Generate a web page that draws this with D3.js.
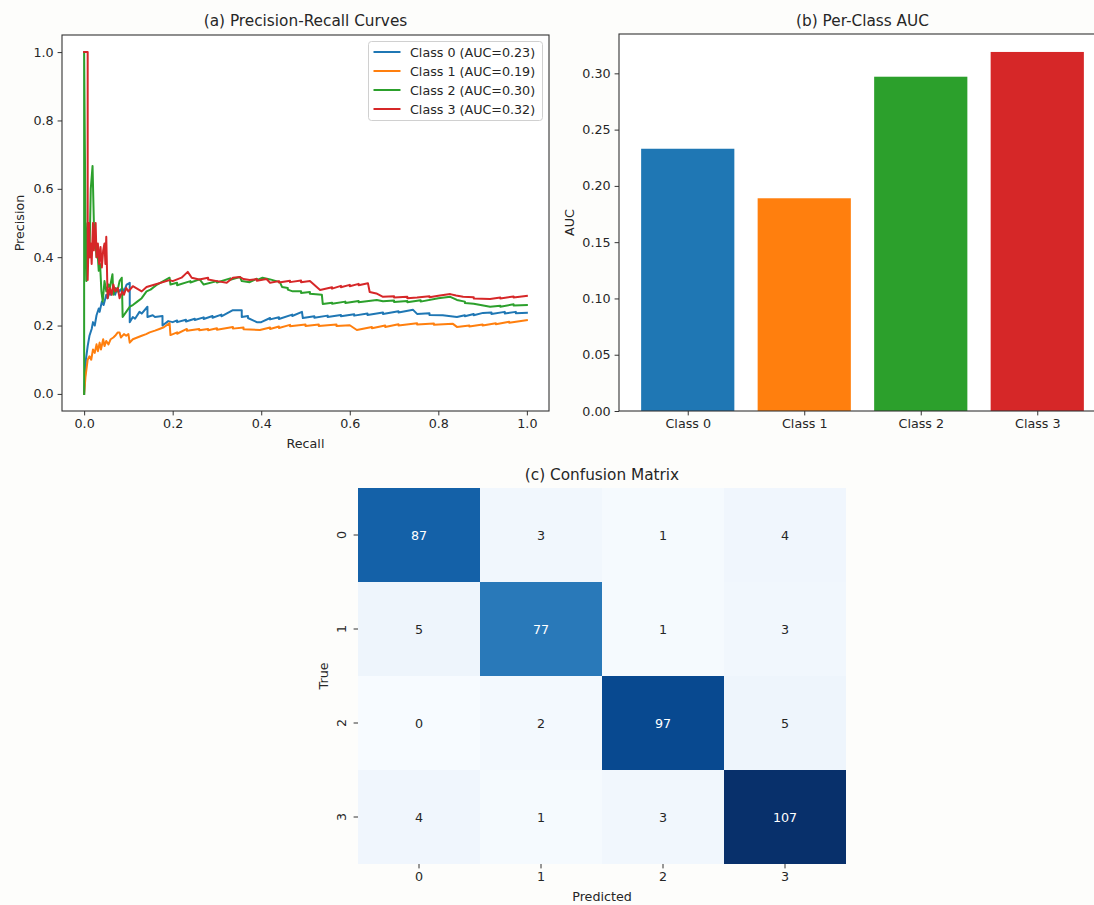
<!DOCTYPE html>
<html>
<head>
<meta charset="utf-8">
<script src="https://cdn.jsdelivr.net/npm/d3@7"></script>
<style>
  html, body { margin: 0; padding: 0; background: #fdfdfb; }
  svg { display: block; font-family: "DejaVu Sans", sans-serif; }
</style>
</head>
<body>
<svg id="fig" width="1094" height="905"></svg>
<script>
// ---- data ----
const classNames = ["Class 0", "Class 1", "Class 2", "Class 3"];
const classColors = ["#1f77b4", "#ff7f0e", "#2ca02c", "#d62728"];
const aucValues = [0.233, 0.189, 0.297, 0.319];

// precision-recall points, [recall, precision]
const prClass0 = [[0,0],[0.004,0.10],[0.008,0.14],[0.012,0.17],[0.017,0.19],[0.02,0.21],[0.024,0.20],[0.028,0.23],[0.033,0.25],[0.035,0.24],[0.04,0.27],[0.044,0.26],[0.048,0.28],[0.05,0.29],[0.053,0.28],[0.058,0.30],[0.06,0.29],[0.066,0.31],[0.07,0.29],[0.075,0.31],[0.08,0.30],[0.086,0.31],[0.09,0.30],[0.096,0.32],[0.103,0.325],[0.103,0.21],[0.11,0.225],[0.115,0.22],[0.125,0.24],[0.13,0.235],[0.143,0.255],[0.143,0.225],[0.155,0.23],[0.16,0.225],[0.177,0.228],[0.177,0.20],[0.19,0.213],[0.2,0.21],[0.21,0.215],[0.21,0.21],[0.23,0.217],[0.23,0.212],[0.25,0.22],[0.25,0.216],[0.27,0.224],[0.27,0.219],[0.29,0.228],[0.29,0.223],[0.31,0.232],[0.31,0.227],[0.336,0.245],[0.356,0.245],[0.356,0.225],[0.37,0.228],[0.37,0.222],[0.39,0.21],[0.40,0.21],[0.42,0.222],[0.42,0.218],[0.44,0.224],[0.44,0.219],[0.47,0.232],[0.47,0.228],[0.492,0.24],[0.494,0.222],[0.52,0.227],[0.52,0.223],[0.55,0.229],[0.55,0.225],[0.58,0.231],[0.58,0.227],[0.61,0.233],[0.61,0.229],[0.64,0.235],[0.64,0.231],[0.675,0.238],[0.675,0.234],[0.71,0.242],[0.71,0.238],[0.743,0.246],[0.752,0.234],[0.78,0.236],[0.78,0.231],[0.81,0.23],[0.842,0.225],[0.86,0.23],[0.86,0.227],[0.88,0.234],[0.88,0.23],[0.901,0.237],[0.92,0.238],[0.92,0.234],[0.95,0.24],[0.95,0.235],[0.975,0.24],[0.975,0.236],[1.0,0.237]];
const prClass1 = [[0,0],[0.003,0.05],[0.006,0.08],[0.008,0.10],[0.012,0.11],[0.016,0.10],[0.02,0.13],[0.024,0.12],[0.028,0.145],[0.031,0.125],[0.035,0.15],[0.038,0.13],[0.043,0.16],[0.046,0.14],[0.05,0.155],[0.055,0.145],[0.06,0.16],[0.066,0.165],[0.07,0.17],[0.076,0.18],[0.08,0.18],[0.083,0.165],[0.09,0.175],[0.095,0.17],[0.1,0.175],[0.103,0.15],[0.11,0.16],[0.12,0.165],[0.13,0.17],[0.14,0.175],[0.148,0.18],[0.16,0.185],[0.17,0.19],[0.18,0.195],[0.193,0.207],[0.195,0.172],[0.21,0.18],[0.21,0.176],[0.232,0.19],[0.232,0.185],[0.26,0.19],[0.26,0.186],[0.28,0.19],[0.28,0.186],[0.3,0.192],[0.3,0.188],[0.336,0.196],[0.336,0.191],[0.36,0.194],[0.36,0.189],[0.397,0.187],[0.42,0.194],[0.42,0.19],[0.44,0.197],[0.44,0.193],[0.465,0.202],[0.465,0.198],[0.5,0.203],[0.5,0.199],[0.53,0.203],[0.53,0.199],[0.57,0.203],[0.57,0.199],[0.6,0.201],[0.616,0.187],[0.65,0.196],[0.65,0.192],[0.68,0.2],[0.68,0.196],[0.71,0.204],[0.71,0.2],[0.752,0.207],[0.752,0.203],[0.79,0.206],[0.79,0.202],[0.833,0.205],[0.842,0.196],[0.87,0.2],[0.87,0.197],[0.9,0.203],[0.9,0.2],[0.93,0.207],[0.93,0.204],[0.96,0.211],[0.96,0.208],[1.0,0.216]];
const prClass2 = [[0,0],[0,1.0],[0.003,0.5],[0.005,0.33],[0.008,0.5],[0.012,0.4],[0.015,0.6],[0.019,0.667],[0.022,0.5],[0.025,0.45],[0.028,0.40],[0.03,0.42],[0.033,0.36],[0.036,0.38],[0.039,0.30],[0.042,0.27],[0.046,0.33],[0.05,0.30],[0.055,0.32],[0.058,0.31],[0.064,0.35],[0.066,0.29],[0.07,0.31],[0.075,0.30],[0.08,0.33],[0.085,0.34],[0.087,0.225],[0.095,0.24],[0.103,0.255],[0.11,0.26],[0.12,0.27],[0.13,0.28],[0.141,0.30],[0.15,0.305],[0.165,0.32],[0.193,0.34],[0.195,0.32],[0.21,0.325],[0.21,0.318],[0.24,0.33],[0.24,0.326],[0.261,0.335],[0.27,0.32],[0.3,0.33],[0.3,0.326],[0.33,0.338],[0.33,0.334],[0.352,0.342],[0.356,0.33],[0.374,0.327],[0.39,0.337],[0.39,0.333],[0.403,0.34],[0.42,0.335],[0.442,0.327],[0.447,0.313],[0.46,0.31],[0.46,0.305],[0.471,0.30],[0.49,0.3],[0.49,0.295],[0.51,0.298],[0.51,0.293],[0.537,0.29],[0.539,0.263],[0.56,0.267],[0.56,0.264],[0.59,0.27],[0.59,0.266],[0.62,0.272],[0.62,0.268],[0.661,0.275],[0.675,0.271],[0.7,0.273],[0.7,0.269],[0.73,0.272],[0.73,0.268],[0.76,0.274],[0.76,0.27],[0.8,0.28],[0.827,0.284],[0.842,0.275],[0.86,0.27],[0.86,0.266],[0.88,0.264],[0.917,0.255],[0.94,0.258],[0.94,0.255],[0.97,0.262],[0.97,0.259],[1.0,0.26]];
const prClass3 = [[0,1.0],[0.008,1.0],[0.008,0.333],[0.011,0.5],[0.013,0.4],[0.015,0.44],[0.017,0.38],[0.02,0.5],[0.022,0.42],[0.026,0.5],[0.028,0.40],[0.031,0.44],[0.034,0.38],[0.037,0.43],[0.04,0.37],[0.043,0.42],[0.046,0.44],[0.048,0.38],[0.05,0.46],[0.053,0.28],[0.058,0.31],[0.062,0.29],[0.066,0.32],[0.07,0.30],[0.076,0.31],[0.08,0.28],[0.086,0.30],[0.09,0.29],[0.095,0.31],[0.1,0.30],[0.11,0.315],[0.13,0.30],[0.141,0.313],[0.16,0.32],[0.193,0.333],[0.2,0.33],[0.22,0.34],[0.234,0.357],[0.243,0.34],[0.26,0.335],[0.28,0.34],[0.28,0.335],[0.3,0.33],[0.322,0.325],[0.336,0.34],[0.352,0.342],[0.36,0.336],[0.374,0.333],[0.39,0.336],[0.39,0.331],[0.412,0.336],[0.42,0.325],[0.44,0.33],[0.44,0.326],[0.465,0.331],[0.465,0.327],[0.49,0.332],[0.49,0.327],[0.51,0.33],[0.533,0.304],[0.56,0.312],[0.56,0.308],[0.58,0.316],[0.58,0.312],[0.6,0.319],[0.6,0.315],[0.62,0.322],[0.62,0.318],[0.641,0.324],[0.645,0.298],[0.66,0.294],[0.675,0.284],[0.7,0.286],[0.7,0.282],[0.73,0.284],[0.73,0.28],[0.752,0.282],[0.78,0.286],[0.78,0.283],[0.8,0.287],[0.827,0.292],[0.84,0.288],[0.856,0.284],[0.88,0.283],[0.88,0.279],[0.917,0.278],[0.94,0.282],[0.94,0.279],[0.97,0.285],[0.97,0.282],[1.0,0.287]];
const prCurves = [prClass0, prClass1, prClass2, prClass3];

const prTicks = [0.0, 0.2, 0.4, 0.6, 0.8, 1.0];
const aucTicks = [0.00, 0.05, 0.10, 0.15, 0.20, 0.25, 0.30];

const cmLabels = ["0", "1", "2", "3"];
const confusion = [
  [87, 3, 1, 4],
  [5, 77, 1, 3],
  [0, 2, 97, 5],
  [4, 1, 3, 107]
];
const bluesStops = ["#f7fbff","#deebf7","#c6dbef","#9ecae1","#6baed6","#4292c6","#2171b5","#08519c","#08306b"];

// ---- shared styling ----
const TXT = "#262626";
const SPINE = "#333";
const FS = 12.7;
const TFS = 15.3;
const svg = d3.select("#fig");

function styleAxis(g) {
  g.selectAll(".domain").remove();
  g.selectAll(".tick line").attr("stroke", SPINE).attr("stroke-width", 1);
  g.selectAll(".tick text").attr("fill", TXT).attr("font-size", FS)
    .attr("font-family", "DejaVu Sans, sans-serif");
}
function frame(g, x0, y0, x1, y1) {
  g.append("rect").attr("x", x0).attr("y", y0).attr("width", x1 - x0).attr("height", y1 - y0)
    .attr("fill", "none").attr("stroke", SPINE).attr("stroke-width", 1.1);
}

// ================= (a) Precision-Recall Curves =================
{
  const L = 62, R = 549, T = 35, B = 411;
  const x = d3.scaleLinear().domain([-0.05, 1.05]).range([L, R]);
  const y = d3.scaleLinear().domain([-0.05, 1.05]).range([B, T]);
  const g = svg.append("g");
  g.append("rect").attr("x", L).attr("y", T).attr("width", R - L).attr("height", B - T).attr("fill", "#fff");

  g.append("defs").append("clipPath").attr("id", "clipA")
    .append("rect").attr("x", L).attr("y", T).attr("width", R - L).attr("height", B - T);

  const line = d3.line().x(d => x(d[0])).y(d => y(d[1]));
  const curves = g.append("g").attr("clip-path", "url(#clipA)");
  prCurves.forEach((pts, i) => {
    curves.append("path").datum(pts).attr("d", line)
      .attr("fill", "none").attr("stroke", classColors[i]).attr("stroke-width", 2)
      .attr("stroke-linejoin", "round").attr("stroke-linecap", "square");
  });

  g.append("g").attr("transform", `translate(0,${B})`)
    .call(d3.axisBottom(x).tickValues(prTicks).tickFormat(d3.format(".1f")).tickSize(4.4).tickPadding(4))
    .call(styleAxis);
  g.append("g").attr("transform", `translate(${L},0)`)
    .call(d3.axisLeft(y).tickValues(prTicks).tickFormat(d3.format(".1f")).tickSize(4.4).tickPadding(4))
    .call(styleAxis);
  frame(g, L, T, R, B);

  g.append("text").attr("x", (L + R) / 2).attr("y", 26).attr("text-anchor", "middle")
    .attr("font-size", TFS).attr("fill", TXT).text("(a) Precision-Recall Curves");
  g.append("text").attr("x", (L + R) / 2).attr("y", 448).attr("text-anchor", "middle")
    .attr("font-size", FS).attr("fill", TXT).text("Recall");
  g.append("text").attr("transform", `translate(24,${(T + B) / 2}) rotate(-90)`).attr("text-anchor", "middle")
    .attr("font-size", FS).attr("fill", TXT).text("Precision");

  // legend
  const lg = g.append("g").attr("transform", "translate(368.5,41.5)");
  lg.append("rect").attr("width", 174).attr("height", 79).attr("rx", 3)
    .attr("fill", "#fff").attr("fill-opacity", 0.8).attr("stroke", "#d0d0d0").attr("stroke-width", 1);
  classNames.forEach((name, i) => {
    const yy = 10.5 + i * 19;
    lg.append("line").attr("x1", 5).attr("x2", 32).attr("y1", yy).attr("y2", yy)
      .attr("stroke", classColors[i]).attr("stroke-width", 2);
    lg.append("text").attr("x", 41.5).attr("y", yy).attr("dy", "0.36em")
      .attr("font-size", FS).attr("fill", TXT)
      .text(`${name} (AUC=${aucValues[i].toFixed(2)})`);
  });
}

// ================= (b) Per-Class AUC =================
{
  const L = 619, R = 1106, T = 34, B = 411;
  const x = d3.scaleLinear().domain([-0.59, 3.59]).range([L, R]);
  const y = d3.scaleLinear().domain([0, d3.max(aucValues) * 1.05]).range([B, T]);
  const g = svg.append("g");
  g.append("rect").attr("x", L).attr("y", T).attr("width", R - L).attr("height", B - T).attr("fill", "#fff");

  g.selectAll("rect.bar").data(aucValues).join("rect").attr("class", "bar")
    .attr("x", (d, i) => x(i - 0.4)).attr("width", (d, i) => x(i + 0.4) - x(i - 0.4))
    .attr("y", d => y(d)).attr("height", d => y(0) - y(d))
    .attr("fill", (d, i) => classColors[i]);

  g.append("g").attr("transform", `translate(0,${B})`)
    .call(d3.axisBottom(x).tickValues([0, 1, 2, 3]).tickFormat(i => classNames[i]).tickSize(4.4).tickPadding(4))
    .call(styleAxis);
  g.append("g").attr("transform", `translate(${L},0)`)
    .call(d3.axisLeft(y).tickValues(aucTicks).tickFormat(d3.format(".2f")).tickSize(4.4).tickPadding(4))
    .call(styleAxis);
  frame(g, L, T, R, B);

  g.append("text").attr("x", (L + R) / 2).attr("y", 26).attr("text-anchor", "middle")
    .attr("font-size", TFS).attr("fill", TXT).text("(b) Per-Class AUC");
  g.append("text").attr("transform", `translate(574,${(T + B) / 2}) rotate(-90)`).attr("text-anchor", "middle")
    .attr("font-size", FS).attr("fill", TXT).text("AUC");
}

// ================= (c) Confusion Matrix =================
{
  const L = 358, R = 846, T = 488, B = 864;
  const x = d3.scaleBand().domain(cmLabels).range([L, R]);
  const y = d3.scaleBand().domain(cmLabels).range([T, B]);
  const flat = confusion.flat();
  const vmin = d3.min(flat), vmax = d3.max(flat);
  const color = d3.scaleLinear()
    .domain(bluesStops.map((c, i) => vmin + (vmax - vmin) * i / (bluesStops.length - 1)))
    .range(bluesStops).interpolate(d3.interpolateRgb);

  const cells = [];
  confusion.forEach((row, r) => row.forEach((v, c) => cells.push({ r, c, v })));

  const g = svg.append("g");
  g.selectAll("rect.cell").data(cells).join("rect").attr("class", "cell")
    .attr("x", d => x(cmLabels[d.c])).attr("y", d => y(cmLabels[d.r]))
    .attr("width", x.bandwidth()).attr("height", y.bandwidth())
    .attr("fill", d => color(d.v));

  g.selectAll("text.ann").data(cells).join("text").attr("class", "ann")
    .attr("x", d => x(cmLabels[d.c]) + x.bandwidth() / 2)
    .attr("y", d => y(cmLabels[d.r]) + y.bandwidth() / 2)
    .attr("dy", "0.36em").attr("text-anchor", "middle").attr("font-size", FS)
    .attr("fill", d => {
      const c = d3.rgb(color(d.v));
      const lin = v => { v /= 255; return v <= 0.03928 ? v / 12.92 : Math.pow((v + 0.055) / 1.055, 2.4); };
      const lum = 0.2126 * lin(c.r) + 0.7152 * lin(c.g) + 0.0722 * lin(c.b);
      return lum > 0.408 ? TXT : "#fff";
    })
    .text(d => d.v);

  g.append("g").attr("transform", `translate(0,${B})`)
    .call(d3.axisBottom(x).tickSize(4.4).tickPadding(4))
    .call(styleAxis);
  const ya = g.append("g").attr("transform", `translate(${L},0)`)
    .call(d3.axisLeft(y).tickSize(4.4).tickPadding(4))
    .call(styleAxis);
  ya.selectAll(".tick text").attr("text-anchor", "middle")
    .attr("x", null).attr("transform", "translate(-17,0) rotate(-90)").attr("dy", "0.36em");

  g.append("text").attr("x", (L + R) / 2).attr("y", 480).attr("text-anchor", "middle")
    .attr("font-size", TFS).attr("fill", TXT).text("(c) Confusion Matrix");
  g.append("text").attr("x", (L + R) / 2).attr("y", 901).attr("text-anchor", "middle")
    .attr("font-size", FS).attr("fill", TXT).text("Predicted");
  g.append("text").attr("transform", `translate(328,${(T + B) / 2}) rotate(-90)`).attr("text-anchor", "middle")
    .attr("font-size", FS).attr("fill", TXT).text("True");
}
</script>
</body>
</html>
